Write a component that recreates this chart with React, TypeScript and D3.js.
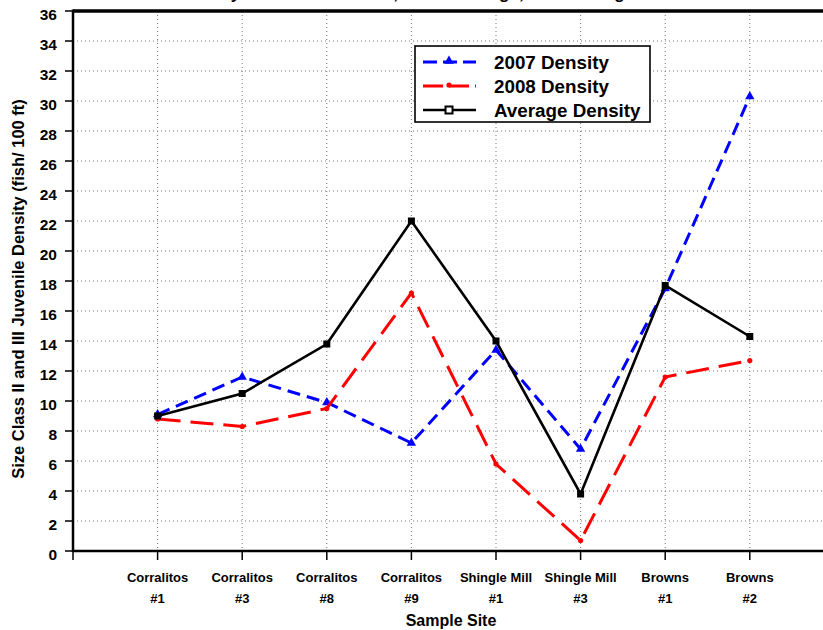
import React from "react";
import * as d3 from "d3";

const sitesLine1 = ["Corralitos", "Corralitos", "Corralitos", "Corralitos", "Shingle Mill", "Shingle Mill", "Browns", "Browns"];
const sitesLine2 = ["#1", "#3", "#8", "#9", "#1", "#3", "#1", "#2"];
const density2007 = [9.1, 11.6, 9.9, 7.2, 13.4, 6.8, 17.5, 30.3];
const density2008 = [8.8, 8.3, 9.5, 17.2, 5.8, 0.7, 11.6, 12.7];
const densityAvg = [9.0, 10.5, 13.8, 22.0, 14.0, 3.8, 17.7, 14.3];
const yTicks = d3.range(0, 37, 2);
const legendLabels = ["2007 Density", "2008 Density", "Average Density"];

const FONT = "'Liberation Sans', Arial, Helvetica, sans-serif";

export default function App() {
  const left = 73, top = 11, bottom = 551, step = 84.6;
  const x = d3.scaleLinear().domain([-1, 8]).range([left, left + 9 * step]);
  const y = d3.scaleLinear().domain([0, 36]).range([bottom, top]);
  const idx = d3.range(sitesLine1.length);
  const line = d3.line<number>().x((_, i) => x(i)).y((d) => y(d));

  const tri = d3.symbol().type(d3.symbolTriangle).size(38)()!;
  const series = [
    { data: density2007, color: "#0000ff", dash: "13,7", width: 3 },
    { data: density2008, color: "#ff0000", dash: "23,10", width: 3 },
    { data: densityAvg, color: "#000000", dash: null, width: 2.6 },
  ];

  return (
    <div style={{ position: "absolute", left: 0, top: 0 }}>
      <svg width={823} height={630} style={{ display: "block", fontFamily: FONT }}>
        <rect width={823} height={630} fill="#fff" />
        {/* title, clipped at the top edge as in the reference */}
        <text x={21} y={-1} fontSize={17} fontWeight="bold">
          Juvenile Steelhead Density at Each Creek Site, Main Drainage, 2007 through 2008
        </text>
        {/* grid */}
        {yTicks.map((t) => (
          <line key={"h" + t} x1={left} x2={823} y1={y(t)} y2={y(t)} stroke="#777" strokeWidth={1} strokeDasharray="1,3" />
        ))}
        {idx.map((i) => (
          <line key={"v" + i} x1={x(i)} x2={x(i)} y1={top} y2={bottom} stroke="#777" strokeWidth={1} strokeDasharray="1,3" />
        ))}
        {/* axes */}
        <line x1={left} x2={823} y1={top} y2={top} stroke="#000" strokeWidth={3.5} />
        <line x1={left} x2={823} y1={bottom} y2={bottom} stroke="#000" strokeWidth={2.5} />
        <line x1={left} x2={left} y1={top - 1.5} y2={bottom + 1} stroke="#000" strokeWidth={2.5} />
        {yTicks.map((t) => (
          <g key={"yt" + t}>
            <line x1={65} x2={left} y1={y(t)} y2={y(t)} stroke="#000" strokeWidth={1.5} />
            <text x={57} y={y(t) + 8.5} textAnchor="end" fontSize={15.5} fontWeight="bold">
              {t}
            </text>
          </g>
        ))}
        {[-1, ...idx].map((i) => (
          <line key={"xt" + i} x1={x(i)} x2={x(i)} y1={bottom} y2={560} stroke="#000" strokeWidth={1.5} />
        ))}
        {idx.map((i) => (
          <g key={"xl" + i}>
            <text x={x(i)} y={582} textAnchor="middle" fontSize={13} fontWeight="bold">
              {sitesLine1[i]}
            </text>
            <text x={x(i)} y={603} textAnchor="middle" fontSize={13} fontWeight="bold">
              {sitesLine2[i]}
            </text>
          </g>
        ))}
        <text x={451} y={626} textAnchor="middle" fontSize={16} fontWeight="bold">
          Sample Site
        </text>
        <text
          transform={`translate(24,289) rotate(-90)`}
          textAnchor="middle"
          fontSize={16.5}
          fontWeight="bold"
        >
          Size Class II and III Juvenile Density (fish/ 100 ft)
        </text>
        {/* series */}
        {series.map((s, k) => (
          <g key={"s" + k}>
            <path
              d={line(s.data)!}
              fill="none"
              stroke={s.color}
              strokeWidth={s.width}
              strokeDasharray={s.dash ?? undefined}
              strokeLinejoin="miter"
            />
            {s.data.map((v, i) =>
              k === 0 ? (
                <path key={i} d={tri} transform={`translate(${x(i)},${y(v)})`} fill={s.color} />
              ) : k === 1 ? (
                <circle key={i} cx={x(i)} cy={y(v)} r={2.6} fill={s.color} />
              ) : (
                <rect key={i} x={x(i) - 3.5} y={y(v) - 3.5} width={7} height={7} fill="#000" />
              )
            )}
          </g>
        ))}
        {/* legend */}
        <rect x={415} y={46} width={235} height={76} fill="#fff" stroke="#000" strokeWidth={1.6} />
        {series.map((s, k) => {
          const ly = 62 + k * 24;
          return (
            <g key={"lg" + k}>
              <line
                x1={423}
                x2={476}
                y1={ly}
                y2={ly}
                stroke={s.color}
                strokeWidth={s.width}
                strokeDasharray={k === 0 ? "14,6,14,6" : k === 1 ? "20,6,20,6" : undefined}
              />
              {k === 0 ? (
                <path d={tri} transform={`translate(449,${ly - 1})`} fill={s.color} />
              ) : k === 1 ? (
                <circle cx={449} cy={ly - 1} r={2.6} fill={s.color} />
              ) : (
                <rect x={445.5} y={ly - 3.5} width={7} height={7} fill="#fff" stroke="#000" strokeWidth={2} />
              )}
              <text x={494} y={ly + 7} fontSize={18.8} fontWeight="bold">
                {legendLabels[k]}
              </text>
            </g>
          );
        })}
      </svg>
    </div>
  );
}
